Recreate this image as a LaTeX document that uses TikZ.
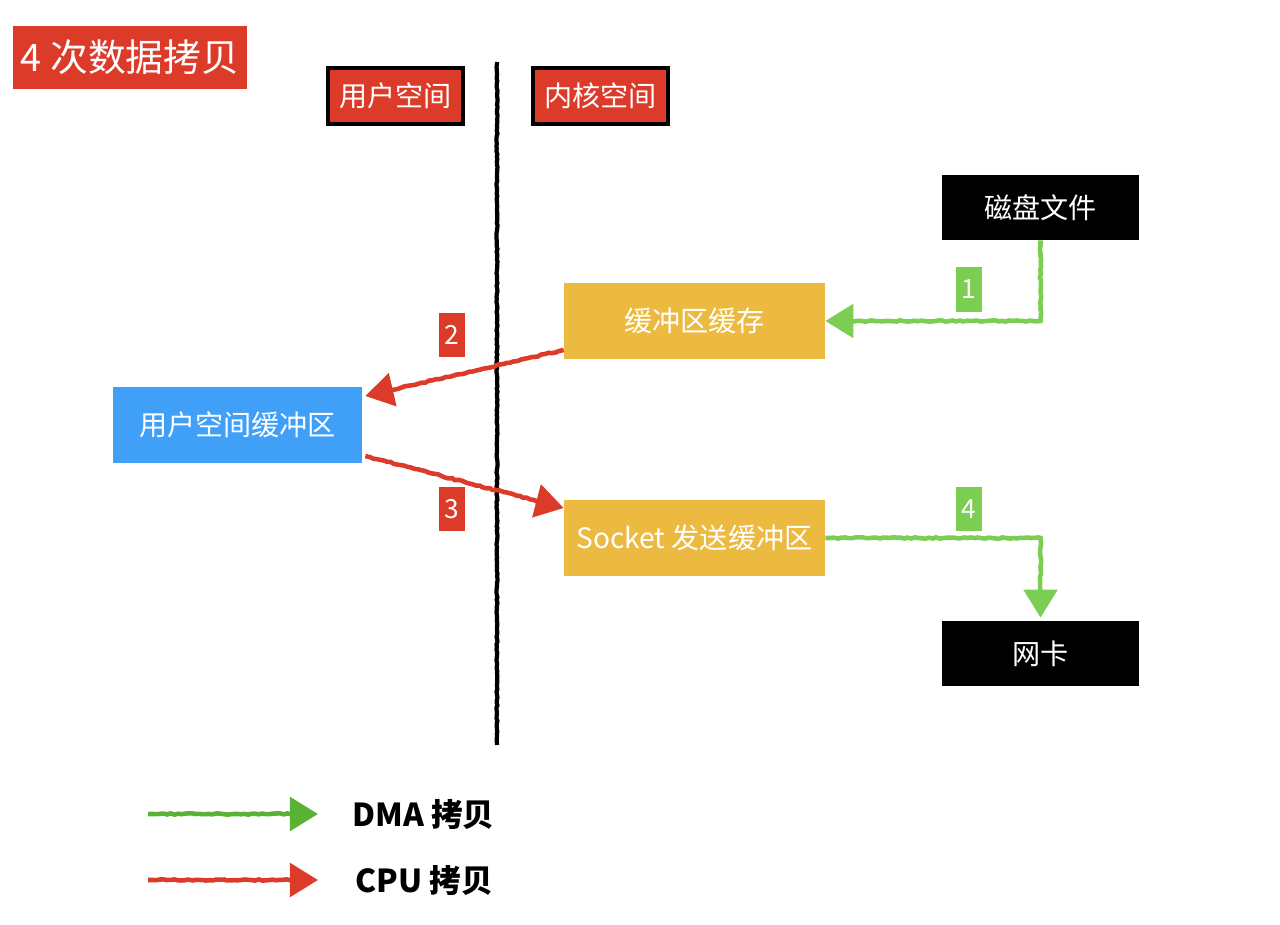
\documentclass[tikz,border=0pt]{standalone}
\usepackage{fontspec}
\setmainfont{Noto Sans CJK SC}
\usetikzlibrary{arrows.meta,decorations.pathmorphing,calc}
\definecolor{copyred}{RGB}{221,59,42}
\definecolor{cacheyellow}{RGB}{236,186,64}
\definecolor{bufblue}{RGB}{64,160,247}
\definecolor{dmagreen}{RGB}{124,206,82}
\definecolor{keygreen}{RGB}{88,178,52}

\begin{document}
\begin{tikzpicture}[x=0.02cm, y=-0.02cm]
\tikzstyle{box}=[inner sep=0pt, text=white, font=\fontsize{16}{18}\selectfont]
\tikzstyle{hdr}=[box, fill=copyred, draw=black, line width=2.2pt, minimum width=2.7cm, minimum height=1.12cm]
\tikzstyle{num}=[box, minimum width=0.52cm, minimum height=0.9cm, font=\fontsize{15}{17}\selectfont]
\tikzstyle{rough}=[decorate, decoration={random steps, segment length=2pt, amplitude=0.4pt, pre length=3pt, post length=6pt}]
\tikzstyle{dma}=[rough, draw=dmagreen, line width=2.6pt, -{Triangle[length=16pt, width=19pt]}]
\tikzstyle{cpu}=[rough, draw=copyred, line width=2.6pt, -{Triangle[length=16pt, width=19pt]}]
\useasboundingbox (0,0) rectangle (1280,925);

\node[box, fill=copyred, minimum width=4.68cm, minimum height=1.26cm, font=\fontsize{21.5}{24}\selectfont] (title) at (130,57.5) {4 次数据拷贝};
\node[hdr] (userhdr) at (395.5,96) {用户空间};
\node[hdr] (kernelhdr) at (600.5,96) {内核空间};
\coordinate (linetop) at (497,62);
\coordinate (linebot) at (497,745);
\draw[decorate, decoration={random steps, segment length=1.5pt, amplitude=0.3pt}, line width=2.4pt] (linetop) -- (linebot);

\node[box, fill=black, minimum width=3.94cm, minimum height=1.3cm] (disk) at (1040.5,207.5) {磁盘文件};
\node[box, fill=cacheyellow, minimum width=5.22cm, minimum height=1.52cm] (cache) at (694.5,321) {缓冲区缓存};
\node[box, fill=bufblue, minimum width=4.98cm, minimum height=1.52cm] (userbuf) at (237.5,425) {用户空间缓冲区};
\node[box, fill=cacheyellow, minimum width=5.22cm, minimum height=1.52cm] (sockbuf) at (694.5,538) {Socket 发送缓冲区};
\node[box, fill=black, minimum width=3.94cm, minimum height=1.3cm] (nic) at (1040.5,653.5) {网卡};

\draw[dma] (disk.south) |- (cache.east);
\draw[cpu] ($(cache.west)+(0,29)$) -- ($(userbuf.east)+(3,-29)$);
\draw[cpu] ($(userbuf.east)+(3,31)$) -- ($(sockbuf.west)+(0,-30)$);
\draw[dma] (sockbuf.east) -| ($(nic.north)+(0,-3)$);

\node[num, fill=dmagreen] (n1) at (969,289.5) {1};
\node[num, fill=copyred] (n2) at (452,335) {2};
\node[num, fill=copyred] (n3) at (452,509) {3};
\node[num, fill=dmagreen] (n4) at (969,509) {4};

% legend
\coordinate (dmaa) at (148,814);
\coordinate (dmab) at (318,814);
\coordinate (cpua) at (148,880);
\coordinate (cpub) at (318,880);
\draw[dma, draw=keygreen] (dmaa) -- (dmab);
\draw[cpu] (cpua) -- (cpub);
\node[anchor=west, inner sep=0pt, font=\fontsize{18}{20}\selectfont\bfseries] (dmakey) at (352,815) {DMA 拷贝};
\node[anchor=west, inner sep=0pt, font=\fontsize{18}{20}\selectfont\bfseries] (cpukey) at (355,881) {CPU 拷贝};
\end{tikzpicture}
\end{document}
